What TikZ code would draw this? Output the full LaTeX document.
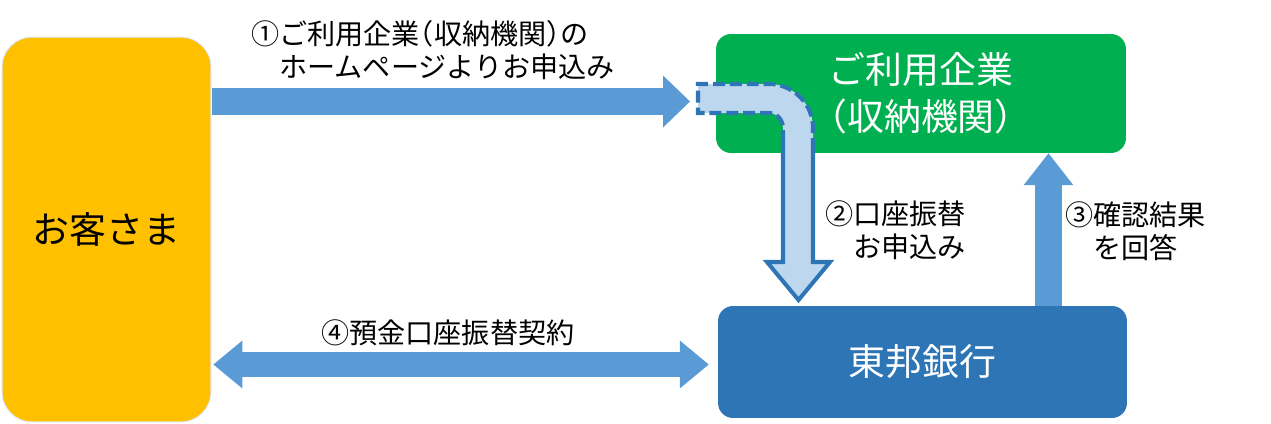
\documentclass[tikz,border=0pt]{standalone}
\usepackage{fontspec}
\setmainfont{Noto Sans CJK JP}
\usetikzlibrary{arrows.meta, calc}
\definecolor{c1}{HTML}{FFC000}
\definecolor{c2}{HTML}{00B050}
\definecolor{c3}{HTML}{2E75B6}
\definecolor{c4}{HTML}{5B9BD5}
\definecolor{c5}{HTML}{BDD7EE}
\definecolor{edgecolor}{HTML}{DEEBF7}
\newcommand\halfw[1]{{\addfontfeature{RawFeature=+halt}#1}}

\begin{document}
\begin{tikzpicture}[
    x=0.02cm, y=-0.02cm,
    box/.style={
        rectangle, rounded corners=0.3cm, inner sep=0pt, align=center,
        font=\fontsize{21}{26.6}\selectfont,
    },
    blockarr/.style={-{Triangle[length=15.3pt, width=29.5pt, line width=0pt]},
        line width=15.3pt, color=c4},
    uparr/.style={-{Triangle[length=18.1pt, width=28.3pt, line width=0pt]},
        line width=15.3pt, color=c4},
    dblarr/.style={{Triangle[length=16.4pt, width=27.2pt, line width=0pt]}-{Triangle[length=16.4pt, width=27.2pt, line width=0pt]},
        line width=14.2pt, color=c4},
    bentedge/.style={c3, line width=2.3pt, miter limit=10},
    lab/.style={font=\fontsize{16}{18.7}\selectfont, align=left, anchor=west, inner sep=0pt},
]
\useasboundingbox (0,0) rectangle (1271,423);

% ============================================================ the three parties
\node[box, fill=c1, draw=edgecolor, line width=0.6pt, rounded corners=0.6cm,
    minimum width=4.18cm, minimum height=7.7cm] (cust) at (106.5,229.5) {お客さま};
\node[box, fill=c2, text=white, minimum width=8.2cm, minimum height=2.38cm]
    (firm) at (921,93.5) {ご利用企業\\\halfw{（}収納機関\halfw{）}};
\node[box, fill=c3, text=white, minimum width=8.18cm, minimum height=2.24cm]
    (bank) at (922.5,362) {東邦銀行};

% ============================================================ step 1
\coordinate (a1) at (690,101.5);
\draw[blockarr] (cust.east |- a1) -- (a1);
\node[lab] (lab1) at (251,50.5)
    {①ご利用企業\halfw{（}収納機関\halfw{）}の\\\hspace*{1em}ホームページよりお申込み};

% ============================================================ step 2, the bent arrow
\path[fill=c5] (698,84) -- (769,84) .. controls (793,84) and (813,104) .. (813,128)
    -- (813,262) -- (830,262) -- (798.5,300) -- (767,262) -- (783,262)
    -- (783,128) .. controls (783,120) and (777,113) .. (769,113) -- (698,113) -- cycle;
\draw[bentedge, dash pattern=on 6.8pt off 2.8pt]
    (783,142) -- (783,128) .. controls (783,120) and (777,113) .. (769,113)
    -- (698,113) -- (698,84) -- (769,84) .. controls (793,84) and (813,104) .. (813,128)
    -- (813,148);
\draw[bentedge] (813,148) -- (813,262) -- (830,262) -- (798.5,300) -- (767,262)
    -- (783,262) -- (783,142);
\node[lab] (lab2) at (825,230.5) {②口座振替\\\hspace*{1em}お申込み};

% ============================================================ step 3
\coordinate (a3) at (1048.5,0);
\draw[uparr] (bank.north -| a3) -- (firm.south -| a3);
\node[lab] (lab3) at (1065,231) {③確認結果\\\hspace*{1em}を回答};

% ============================================================ step 4
\coordinate (a4) at (0,364.5);
\draw[dblarr, shorten <=1.1pt, shorten >=5.1pt] (cust.east |- a4) -- (bank.west |- a4);
\node[lab] (lab4) at (321,333) {④預金口座振替契約};

\end{tikzpicture}
\end{document}
